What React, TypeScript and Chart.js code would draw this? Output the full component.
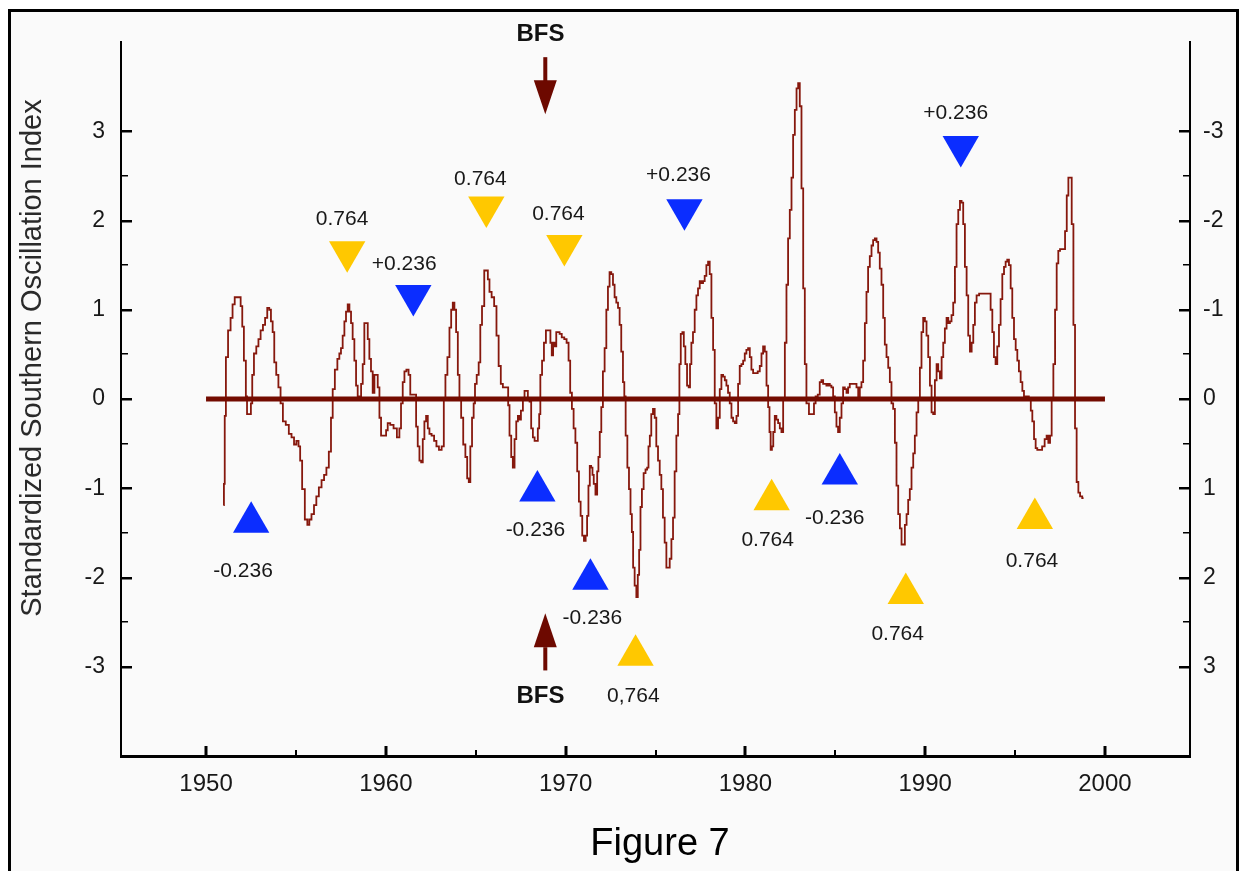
import React, { useEffect, useRef } from "react";
import { Chart, registerables } from "chart.js";

Chart.register(...registerables);

const FONT = '"Liberation Sans", Arial, Helvetica, sans-serif';

// ---------- axes ----------
const xMin = 1945.27;
const xMax = 2004.73;
const yMin = -4;
const yMax = 4;
const xTickYears = [1950, 1960, 1970, 1980, 1990, 2000];
const xMinorYears = [1955, 1965, 1975, 1985, 1995];
const yTickValues = [-3, -2, -1, 0, 1, 2, 3];
const yMinorValues = [-2.5, -1.5, -0.5, 0.5, 1.5, 2.5];

// ---------- Southern Oscillation Index ----------
const soiYears = [
  1950.97, 1951.02, 1951.06, 1951.15, 1951.30, 1951.43, 1951.52, 1951.67, 1951.86, 1951.99,
  1952.04, 1952.17, 1952.26, 1952.30, 1952.45, 1952.54, 1952.60, 1952.73, 1952.86, 1952.97,
  1953.10, 1953.23, 1953.34, 1953.47, 1953.56, 1953.66, 1953.75, 1953.84, 1953.97, 1954.08,
  1954.21, 1954.34, 1954.53, 1954.68, 1954.83, 1954.96, 1955.09, 1955.20, 1955.27, 1955.42,
  1955.57, 1955.70, 1955.79, 1955.94, 1956.07, 1956.20, 1956.35, 1956.50, 1956.63, 1956.76,
  1956.90, 1957.00, 1957.09, 1957.24, 1957.37, 1957.46, 1957.55, 1957.65, 1957.74, 1957.83,
  1957.93, 1958.02, 1958.11, 1958.20, 1958.30, 1958.39, 1958.48, 1958.58, 1958.67, 1958.76,
  1958.85, 1958.95, 1959.04, 1959.13, 1959.22, 1959.32, 1959.41, 1959.50, 1959.60, 1959.69,
  1959.78, 1959.97, 1960.06, 1960.15, 1960.34, 1960.52, 1960.71, 1960.80, 1960.89, 1960.99,
  1961.08, 1961.21, 1961.32, 1961.40, 1961.51, 1961.64, 1961.73, 1961.82, 1961.92, 1962.01,
  1962.10, 1962.19, 1962.29, 1962.38, 1962.47, 1962.62, 1962.75, 1962.88, 1963.03, 1963.18,
  1963.27, 1963.36, 1963.49, 1963.59, 1963.68, 1963.77, 1963.86, 1963.96, 1964.05, 1964.14,
  1964.24, 1964.37, 1964.48, 1964.57, 1964.66, 1964.74, 1964.85, 1964.92, 1965.00, 1965.11,
  1965.22, 1965.29, 1965.41, 1965.54, 1965.63, 1965.72, 1965.81, 1965.96, 1966.09, 1966.22,
  1966.33, 1966.46,
  1966.56, 1966.78, 1966.83, 1966.93, 1967.02, 1967.11, 1967.21, 1967.30, 1967.39, 1967.45,
  1967.58, 1967.67, 1967.76, 1967.85, 1967.95, 1968.04, 1968.13, 1968.23, 1968.32, 1968.41,
  1968.50, 1968.56, 1968.63, 1968.75, 1968.84, 1968.97, 1969.12, 1969.19, 1969.27, 1969.34,
  1969.43, 1969.53, 1969.62, 1969.71, 1969.86, 1969.99, 1970.12, 1970.21, 1970.30, 1970.40,
  1970.49, 1970.60, 1970.69, 1970.79, 1970.88, 1970.97, 1971.07, 1971.16, 1971.23, 1971.31,
  1971.38, 1971.46, 1971.53, 1971.60, 1971.72, 1971.79, 1971.86, 1971.94, 1972.03, 1972.12,
  1972.22, 1972.31, 1972.40, 1972.49, 1972.59, 1972.68, 1972.77, 1972.87, 1972.96, 1973.05,
  1973.14, 1973.24, 1973.29, 1973.39, 1973.48, 1973.57, 1973.65, 1973.72, 1973.79, 1973.89,
  1973.98, 1974.05, 1974.13, 1974.20, 1974.29, 1974.39, 1974.50, 1974.57, 1974.65, 1974.72,
  1974.81, 1974.91, 1975.00, 1975.09, 1975.19, 1975.28, 1975.37, 1975.46, 1975.56, 1975.65,
  1975.74, 1975.84, 1975.93, 1976.02, 1976.11, 1976.21, 1976.30, 1976.36, 1976.45, 1976.54,
  1976.61, 1976.71, 1976.80, 1976.89, 1976.95, 1977.04, 1977.13, 1977.23, 1977.32, 1977.41,
  1977.51, 1977.60, 1977.69, 1977.78, 1977.88, 1977.97, 1978.06, 1978.16, 1978.25, 1978.34,
  1978.43, 1978.53, 1978.62, 1978.71, 1978.81, 1978.90, 1978.99, 1979.08, 1979.18, 1979.27,
  1979.36, 1979.46, 1979.55, 1979.64, 1979.73, 1979.83, 1979.92, 1980.01, 1980.10, 1980.20,
  1980.29, 1980.38, 1980.48, 1980.62, 1980.75, 1980.85, 1980.94, 1981.03, 1981.13, 1981.22,
  1981.31, 1981.37, 1981.44, 1981.51, 1981.59, 1981.68, 1981.77, 1981.87, 1981.96, 1982.05,
  1982.15, 1982.24, 1982.33, 1982.42, 1982.52, 1982.61, 1982.70, 1982.80, 1982.89, 1982.98,
  1983.07, 1983.17, 1983.26, 1983.35, 1983.44,
  1983.63, 1983.78, 1983.85, 1983.96, 1984.09, 1984.18, 1984.28, 1984.37, 1984.46, 1984.55,
  1984.65, 1984.74, 1984.83, 1984.93, 1985.02, 1985.11, 1985.20, 1985.30, 1985.39, 1985.48,
  1985.58, 1985.67, 1985.76, 1985.85, 1986.04, 1986.13, 1986.23, 1986.32, 1986.41, 1986.50,
  1986.60, 1986.69, 1986.78, 1986.87, 1986.97, 1987.06, 1987.15, 1987.25, 1987.34, 1987.43,
  1987.52, 1987.62, 1987.71, 1987.80, 1987.90, 1987.99, 1988.08, 1988.17, 1988.27, 1988.36,
  1988.45, 1988.55, 1988.64, 1988.73, 1988.82, 1988.92, 1989.01, 1989.10, 1989.19, 1989.29,
  1989.38, 1989.47, 1989.57, 1989.66, 1989.75, 1989.84, 1989.94, 1990.03, 1990.12, 1990.22,
  1990.31, 1990.40, 1990.49, 1990.59, 1990.68, 1990.77, 1990.87, 1990.96, 1991.05, 1991.14,
  1991.24, 1991.33, 1991.42, 1991.51, 1991.61, 1991.70, 1991.79, 1991.89, 1991.98, 1992.07,
  1992.16, 1992.26, 1992.35, 1992.44, 1992.54, 1992.63, 1992.72, 1992.81, 1992.91, 1993.09,
  1993.28, 1993.46, 1993.59, 1993.69, 1993.78, 1993.87, 1993.96, 1994.06, 1994.15, 1994.24,
  1994.34, 1994.43, 1994.52, 1994.61, 1994.71, 1994.80, 1994.89, 1994.99, 1995.08, 1995.17,
  1995.26, 1995.36, 1995.45, 1995.54, 1995.69, 1995.84, 1995.91, 1996.01, 1996.10, 1996.19,
  1996.28, 1996.43, 1996.58, 1996.71, 1996.80, 1996.90, 1996.99, 1997.08, 1997.18, 1997.27,
  1997.36, 1997.45, 1997.55, 1997.73, 1997.83, 1997.92, 1998.01, 1998.10, 1998.20, 1998.29,
  1998.38, 1998.47, 1998.57, 1998.66, 1998.81,
];

const soiValues = [
  -1.19, -0.95, -0.19, 0.47, 0.77, 0.91, 1.06, 1.14, 1.14, 1.04,
  0.81, 0.43, 0.03, -0.17, -0.17, -0.05, 0.27, 0.51, 0.59, 0.67,
  0.77, 0.83, 0.91, 1.02, 1.00, 0.87, 0.75, 0.41, 0.27, 0.13,
  -0.05, -0.25, -0.29, -0.39, -0.43, -0.51, -0.47, -0.53, -0.69, -1.01,
  -1.35, -1.41, -1.35, -1.29, -1.19, -1.09, -0.99, -0.91, -0.85, -0.77,
  -0.59, -0.21, 0.11, 0.33, 0.45, 0.51, 0.57, 0.71, 0.87, 0.98,
  1.06, 0.98, 0.85, 0.67, 0.43, 0.15, 0.03, 0.03, 0.17, 0.39,
  0.85, 0.85, 0.67, 0.45, 0.31, 0.07, 0.27, 0.27, 0.13, -0.21,
  -0.41, -0.41, -0.35, -0.27, -0.29, -0.33, -0.43, -0.33, -0.05, 0.19,
  0.31, 0.33, 0.27, 0.05, 0.05, 0.05, -0.31, -0.53, -0.69, -0.71,
  -0.45, -0.25, -0.19, -0.33, -0.39, -0.41, -0.47, -0.53, -0.57, -0.53,
  -0.01, 0.27, 0.47, 0.80, 1.00, 1.08, 1.00, 0.75, 0.27, -0.01,
  -0.21, -0.51, -0.65, -0.89, -0.93, -0.53, -0.21, -0.05, 0.17, 0.27,
  0.41, 0.83, 1.04, 1.44, 1.44, 1.34, 1.20, 1.14, 1.04, 0.71,
  0.37, 0.17,
  0.13, 0.13, -0.07, -0.41, -0.65, -0.77, -0.45, -0.25, -0.19, -0.23,
  -0.13, 0.01, 0.09, 0.09, 0.01, -0.03, -0.33, -0.43, -0.47, -0.47,
  -0.33, -0.17, 0.27, 0.43, 0.63, 0.77, 0.77, 0.63, 0.49, 0.63,
  0.59, 0.75, 0.75, 0.73, 0.69, 0.67, 0.63, 0.43, 0.07, -0.11,
  -0.33, -0.49, -0.81, -1.15, -1.31, -1.53, -1.59, -1.53, -1.31, -0.97,
  -0.75, -0.77, -0.85, -0.95, -1.07, -0.81, -0.65, -0.37, -0.09, 0.31,
  0.57, 1.00, 1.26, 1.42, 1.40, 1.28, 1.14, 1.08, 1.02, 0.83,
  0.53, 0.19, 0.03, -0.41, -0.77, -1.01, -1.29, -1.49, -1.89, -2.09,
  -2.22, -1.97, -1.69, -1.21, -1.01, -0.83, -0.79, -0.77, -0.53, -0.41,
  -0.17, -0.11, -0.21, -0.53, -0.69, -0.85, -1.01, -1.33, -1.61, -1.89,
  -1.89, -1.79, -1.57, -1.33, -0.81, -0.41, -0.17, 0.39, 0.73, 0.75,
  0.59, 0.39, 0.15, 0.13, 0.39, 0.63, 0.75, 1.00, 1.16, 1.24,
  1.32, 1.30, 1.32, 1.38, 1.50, 1.54, 1.40, 0.91, 0.55, -0.05,
  -0.33, -0.21, 0.11, 0.27, 0.25, 0.21, 0.15, 0.07, -0.05, -0.21,
  -0.25, -0.27, -0.19, 0.17, 0.37, 0.39, 0.43, 0.51, 0.55, 0.57,
  0.47, 0.33, 0.29, 0.29, 0.31, 0.37, 0.51, 0.59, 0.53, 0.15,
  -0.09, -0.37, -0.57, -0.53, -0.37, -0.19, -0.23, -0.27, -0.33, -0.37,
  -0.01, 0.63, 1.28, 1.80, 2.12, 2.48, 2.96, 3.24, 3.48, 3.54,
  3.28, 2.36, 1.24, 0.39, -0.05,
  -0.17, -0.17, -0.05, 0.03, 0.05, 0.19, 0.21, 0.17, 0.17, 0.15,
  0.17, 0.15, 0.13, 0.03, -0.15, -0.31, -0.37, -0.21, -0.05, 0.13,
  0.11, 0.07, 0.13, 0.17, 0.17, 0.17, 0.13, 0.03, 0.13, 0.19,
  0.43, 0.85, 1.20, 1.48, 1.60, 1.72, 1.78, 1.80, 1.76, 1.64,
  1.46, 1.28, 0.91, 0.61, 0.47, 0.35, 0.19, -0.05, -0.11, -0.49,
  -0.97, -1.29, -1.45, -1.63, -1.63, -1.41, -1.29, -1.13, -1.01, -0.77,
  -0.61, -0.41, -0.15, -0.01, 0.35, 0.75, 0.91, 0.87, 0.71, 0.47,
  0.15, -0.15, -0.17, 0.21, 0.39, 0.31, 0.23, 0.47, 0.63, 0.79,
  0.91, 0.85, 0.87, 0.94, 1.08, 1.48, 1.96, 2.12, 2.22, 2.20,
  1.96, 1.48, 1.16, 0.71, 0.53, 0.63, 0.83, 1.08, 1.16, 1.18,
  1.18, 1.18, 1.18, 1.00, 0.75, 0.47, 0.39, 0.59, 0.83, 1.12,
  1.40, 1.48, 1.54, 1.56, 1.50, 1.24, 0.91, 0.67, 0.55, 0.43,
  0.31, 0.19, 0.09, 0.03, 0.03, 0.01, -0.13, -0.25, -0.45, -0.55,
  -0.57, -0.57, -0.53, -0.45, -0.41, -0.49, -0.41, -0.01, 0.39, 1.00,
  1.52, 1.66, 1.68, 1.68, 1.88, 2.28, 2.48, 2.48, 1.96, 0.83,
  -0.33, -0.93, -1.05, -1.09, -1.11,
];

// ---------- zero reference line ----------
const zeroLineYears = [1950, 2000];
const zeroLineValues = [0, 0];

// ---------- Fibonacci-ratio triangles ----------
const markerYears = [1952.51, 1957.85, 1961.53, 1965.59, 1969.93, 1976.61, 1991.98, 1968.43, 1971.38, 1973.89, 1981.46, 1985.25, 1988.92, 1996.10];
const markerValues = [-1.38, 1.65, 1.16, 2.15, 1.72, 2.12, 2.83, -1.03, -2.02, -2.87, -1.13, -0.84, -2.18, -1.34];
const markerRatios = [0.236, 0.764, 0.236, 0.764, 0.764, 0.236, 0.236, 0.236, 0.236, 0.764, 0.764, 0.236, 0.764, 0.764];
const markerDirections = ["up", "down", "down", "down", "down", "down", "down", "up", "up", "up", "up", "up", "up", "up"];
const labelTexts = ["-0.236", "0.764", "+0.236", "0.764", "0.764", "+0.236", "+0.236", "-0.236", "-0.236", "0,764", "0.764", "-0.236", "0.764", "0.764"];
const labelYears = [1952.06, 1957.57, 1961.02, 1965.26, 1969.60, 1976.28, 1991.70, 1968.32, 1971.49, 1973.77, 1981.24, 1984.97, 1988.47, 1995.94];
const labelValues = [-1.93, 2.02, 1.51, 2.46, 2.07, 2.51, 3.20, -1.47, -2.46, -3.33, -1.58, -1.34, -2.64, -1.82];

// ---------- BFS arrows ----------
const bfsArrowYears = [1968.87, 1968.87];
const bfsArrowTails = [3.83, -3.03];
const bfsArrowTips = [3.19, -2.40];
const bfsLabelYears = [1968.60, 1968.60];
const bfsLabelValues = [4.08, -3.33];
const bfsText = "BFS";

const yTitle = "Standardized Southern Oscillation Index";
const figureTitle = "Figure 7";

const COLORS = {
  blue: "#0b2dff",
  yellow: "#ffc800",
  series: "#86180d",
  zero: "#730b00",
  arrow: "#6d0900",
  text: "#181818",
  bg: "#fafafa",
};

export default function App() {
  const ref = useRef<HTMLCanvasElement | null>(null);

  useEffect(() => {
    const canvas = ref.current;
    if (!canvas) return;

    const seriesData = soiYears.map((x, i) => ({ x, y: soiValues[i] }));
    const zeroData = zeroLineYears.map((x, i) => ({ x, y: zeroLineValues[i] }));
    const markerData = markerYears.map((x, i) => ({ x, y: markerValues[i] }));
    const markerColors = markerRatios.map((r) => (r === 0.764 ? COLORS.yellow : COLORS.blue));
    const markerRotation = markerDirections.map((d) => (d === "down" ? 180 : 0));

    const decor = {
      id: "decor",
      beforeDraw(chart: any) {
        const ctx = chart.ctx;
        ctx.save();
        ctx.fillStyle = "#ffffff";
        ctx.fillRect(0, 0, chart.width, chart.height);
        ctx.fillStyle = COLORS.bg;
        ctx.fillRect(9, 9, chart.width - 9, chart.height - 9);
        ctx.fillStyle = "#000000";
        ctx.fillRect(8, 9, 3, chart.height - 9);
        ctx.fillRect(8, 9, chart.width - 8, 3);
        ctx.fillRect(chart.width - 3, 9, 3, chart.height - 9);
        ctx.restore();
      },
      afterDraw(chart: any) {
        const ctx = chart.ctx;
        const xs = chart.scales.x;
        const ys = chart.scales.y;
        const { left, right, bottom } = chart.chartArea;
        ctx.save();
        // inward ticks
        ctx.fillStyle = "#000000";
        yTickValues.forEach((v) => {
          const py = Math.round(ys.getPixelForValue(v));
          ctx.fillRect(left, py - 1, 11, 2.5);
          ctx.fillRect(right - 11, py - 1, 11, 2.5);
        });
        yMinorValues.forEach((v) => {
          const py = Math.round(ys.getPixelForValue(v));
          ctx.fillRect(left, py - 1, 7, 1.5);
          ctx.fillRect(right - 7, py - 1, 7, 1.5);
        });
        xTickYears.forEach((v) => {
          const px = Math.round(xs.getPixelForValue(v));
          ctx.fillRect(px - 1.5, bottom - 10, 3, 10);
        });
        xMinorYears.forEach((v) => {
          const px = Math.round(xs.getPixelForValue(v));
          ctx.fillRect(px - 1, bottom - 6, 2, 6);
        });

        // ratio labels
        ctx.fillStyle = COLORS.text;
        ctx.font = `21px ${FONT}`;
        ctx.textAlign = "center";
        ctx.textBaseline = "middle";
        labelTexts.forEach((t, i) => {
          ctx.fillText(t, xs.getPixelForValue(labelYears[i]), ys.getPixelForValue(labelValues[i]));
        });

        // BFS arrows
        ctx.fillStyle = COLORS.arrow;
        bfsArrowYears.forEach((yr, i) => {
          const x = xs.getPixelForValue(yr);
          const yTail = ys.getPixelForValue(bfsArrowTails[i]);
          const yTip = ys.getPixelForValue(bfsArrowTips[i]);
          const dir = Math.sign(yTip - yTail);
          const headLen = 34;
          const yBase = yTip - dir * headLen;
          ctx.fillRect(x - 2, Math.min(yTail, yBase), 4, Math.abs(yBase - yTail) + 1);
          ctx.beginPath();
          ctx.moveTo(x - 11.5, yBase);
          ctx.lineTo(x + 11.5, yBase);
          ctx.lineTo(x, yTip);
          ctx.closePath();
          ctx.fill();
        });
        ctx.fillStyle = "#111111";
        ctx.font = `bold 24px ${FONT}`;
        bfsLabelYears.forEach((yr, i) => {
          ctx.fillText(bfsText, xs.getPixelForValue(yr), ys.getPixelForValue(bfsLabelValues[i]));
        });

        // y axis title
        ctx.save();
        ctx.translate(33, 358);
        ctx.rotate(-Math.PI / 2);
        ctx.fillStyle = "#2a2a2a";
        ctx.font = `29px ${FONT}`;
        ctx.textAlign = "center";
        ctx.textBaseline = "middle";
        ctx.fillText(yTitle, 0, 0);
        ctx.restore();

        // figure caption
        ctx.fillStyle = "#000000";
        ctx.font = `38px ${FONT}`;
        ctx.textAlign = "center";
        ctx.textBaseline = "alphabetic";
        ctx.fillText(figureTitle, 660, 855);
        ctx.restore();
      },
    };

    const tickFont = { family: FONT, size: 23 };

    const chart = new Chart(canvas, {
      type: "line",
      data: {
        datasets: [
          {
            type: "scatter",
            data: markerData,
            pointStyle: "triangle",
            pointRadius: 21,
            pointRotation: markerRotation,
            pointBackgroundColor: markerColors,
            pointBorderColor: markerColors,
            pointBorderWidth: 0,
            showLine: false,
            order: 0,
          } as any,
          {
            data: zeroData,
            borderColor: COLORS.zero,
            borderWidth: 5,
            borderCapStyle: "butt",
            pointRadius: 0,
            order: 1,
          },
          {
            data: seriesData,
            borderColor: COLORS.series,
            borderWidth: 1.8,
            pointRadius: 0,
            stepped: "middle",
            order: 2,
          },
        ],
      },
      options: {
        responsive: false,
        animation: false,
        events: [],
        layout: { padding: { top: 42, left: 0, right: 0, bottom: 0 } },
        plugins: {
          legend: { display: false },
          tooltip: { enabled: false },
          title: { display: false },
        },
        scales: {
          x: {
            type: "linear",
            position: "bottom",
            min: xMin,
            max: xMax,
            grid: { display: false, drawTicks: false },
            border: { display: true, color: "#000000", width: 3 },
            ticks: {
              color: COLORS.text,
              font: { family: FONT, size: 24 },
              padding: 14,
              maxRotation: 0,
              autoSkip: false,
              callback: (v: any) => String(v),
            },
            afterBuildTicks: (ax: any) => {
              ax.ticks = xTickYears.map((v) => ({ value: v }));
            },
            afterFit: (ax: any) => {
              ax.height = 115;
            },
          },
          y: {
            type: "linear",
            position: "left",
            min: yMin,
            max: yMax,
            grid: { display: false, drawTicks: false },
            border: { display: true, color: "#000000", width: 2 },
            ticks: {
              color: COLORS.text,
              font: tickFont,
              padding: 16,
              autoSkip: false,
              callback: (v: any) => String(v),
            },
            afterBuildTicks: (ax: any) => {
              ax.ticks = yTickValues.map((v) => ({ value: v }));
            },
            afterFit: (ax: any) => {
              ax.width = 121;
            },
          },
          y2: {
            type: "linear",
            position: "right",
            reverse: true,
            min: yMin,
            max: yMax,
            grid: { display: false, drawTicks: false },
            border: { display: true, color: "#000000", width: 2 },
            ticks: {
              color: COLORS.text,
              font: tickFont,
              padding: 13,
              autoSkip: false,
              callback: (v: any) => String(v),
            },
            afterBuildTicks: (ax: any) => {
              ax.ticks = yTickValues.map((v) => ({ value: v }));
            },
            afterFit: (ax: any) => {
              ax.width = 49;
            },
          },
        },
      } as any,
      plugins: [decor],
    });

    return () => chart.destroy();
  }, []);

  return (
    <div style={{ position: "absolute", left: 0, top: 0, width: 1239, height: 871 }}>
      <canvas ref={ref} width={1239} height={871} style={{ display: "block" }} />
    </div>
  );
}
